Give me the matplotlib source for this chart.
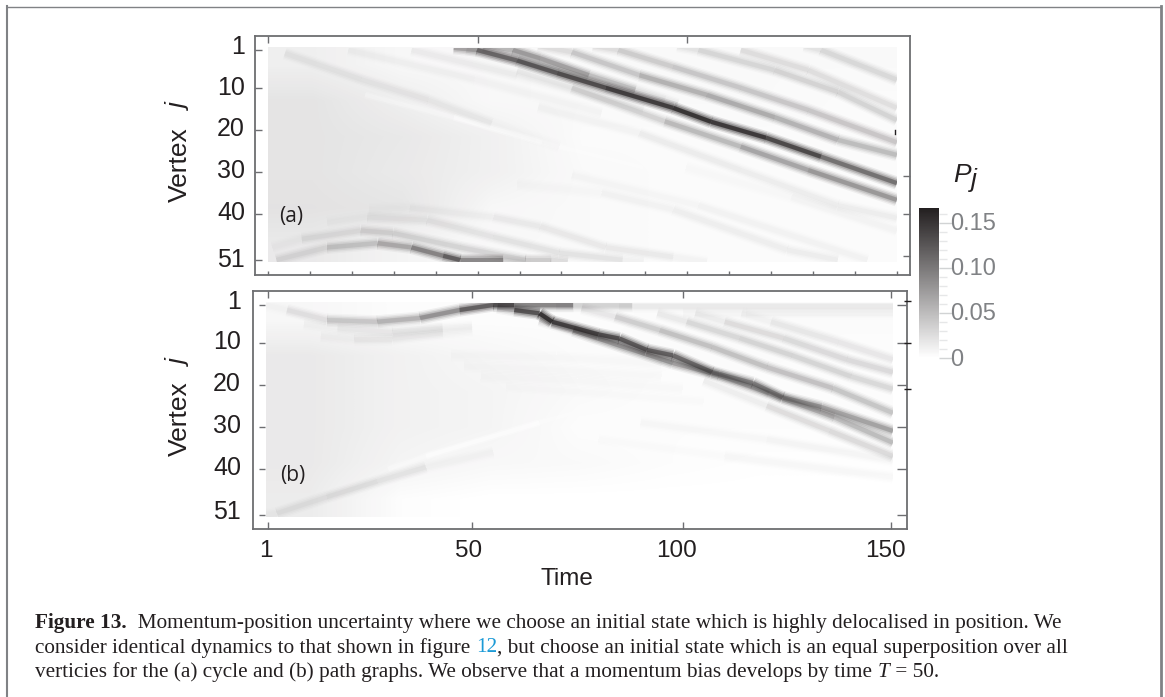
import numpy as np
import matplotlib
matplotlib.use("Agg")
import matplotlib.pyplot as plt
import matplotlib.ticker
from matplotlib.collections import LineCollection
from matplotlib.colors import LinearSegmentedColormap, Normalize
from matplotlib.cm import ScalarMappable
from matplotlib.patches import Rectangle

W, H = 1165, 697
INK = "#231f20"
FRAME = "#6d6e71"
PMAX = 0.167

plt.rcParams["font.family"] = ["Liberation Sans", "DejaVu Sans"]

vertex_ticks = [1, 10, 20, 30, 40, 51]
time_labels = ["1", "50", "100", "150"]

# Background levels (rows: vertices, columns: times)
bg_a = [[.012, .006, .005, .004, .004, .004, .004],
        [.020, .012, .005, .004, .004, .004, .003],
        [.020, .017, .011, .003, .003, .003, .003],
        [.020, .016, .011, .004, .003, .003, .003],
        [.021, .019, .006, .004, .003, .003, .003],
        [.016, .008, .005, .004, .003, .003, .003]]
bg_b = [[.006, .002, .002, .002, .003, .003, .003],
        [.016, .010, .006, .003, .003, .003, .002],
        [.016, .010, .008, .004, .002, .002, .002],
        [.016, .010, .008, .002, .002, .002, .002],
        [.016, .008, .005, .004, .002, .001, .001],
        [.014, .002, .000, .000, .000, .000, .000]]

# Ridges: (times, vertices, P values) read along each dark band
ridges_a = [
    ([45, 50.5, 60, 69.5, 81, 97, 106, 119, 132, 150], [0.5, 1, 3.5, 6.5, 10, 14.8, 18.1, 21.9, 26.4, 32.7],
     [.03, .10, .12, .13, .14, .16, .16, .15, .13, .08]),
    ([52, 59, 65.5, 77, 88, 98], [0, 1, 3, 7, 10.5, 14], [.03, .07, .075, .06, .03, .0]),
    ([60, 73, 95, 113, 129, 150], [6, 10, 18, 24, 29.6, 36.7], [.0, .02, .04, .06, .07, .08]),
    ([65, 73, 89, 105, 121, 136, 150], [0, 1.5, 7, 11.7, 17, 22.4, 26], [.01, .03, .05, .06, .06, .05, .045]),
    ([78, 84, 97, 113, 129, 150], [0, 1, 5, 10, 15.3, 23], [.01, .03, .04, .04, .04, .04]),
    ([98, 103, 121, 136, 150], [0, 1, 5.8, 11, 17.7], [.01, .025, .03, .03, .03]),
    ([113, 129, 150], [1, 5.8, 14.8], [.02, .02, .02]),
    ([128, 132, 150], [0, 1, 8.1], [.01, .025, .025]),
    ([5, 23, 39, 54, 70], [1.8, 8, 12.9, 18.4, 24], [.012, .014, .011, .007, .0]),
    ([20, 50, 80], [1, 8, 16], [.006, .010, .0]),
    ([35, 60, 90], [1, 7, 15], [.008, .010, .0]),
    ([48, 70, 95], [1, 6, 13], [.010, .012, .0]),
    ([65, 89, 113, 136, 150], [14.6, 20.8, 29.6, 38, 41], [.0, .012, .010, .010, .010]),
    ([3, 15, 27, 35, 42.5, 46.5, 56.7, 62], [51, 48, 47, 48, 50, 51, 51, 51.5], [.01, .03, .05, .07, .11, .13, .04, .0]),
    ([2, 9, 23, 30.6, 46.5, 62, 68, 72], [48, 46, 44, 44.6, 48, 51, 51, 51.5], [.0, .01, .025, .03, .025, .03, .04, .0]),
    ([15, 24.5, 38.7, 54.4, 70, 85, 90], [42, 40.8, 41.5, 45.5, 49.3, 51, 51.5], [.0, .008, .015, .015, .02, .015, .0]),
    ([25, 34.6, 54.4, 65.5, 81, 97, 105], [39, 38.6, 40.8, 43, 48, 50.3, 51.5], [.0, .006, .010, .012, .012, .012, .0]),
    ([60, 80, 97, 124, 136], [33, 35, 39, 48.6, 51], [.0, .006, .008, .010, .010]),
    ([73, 103, 143], [30.8, 38, 51], [.0, .008, .008]),
    ([100, 125, 150], [29, 36, 44], [.0, .006, .006]),
]
ridges_b = [
    ([1, 6, 15.5, 27.4, 37.6, 47, 55, 60, 74, 88], [1, 2.2, 4.6, 5, 4.1, 2.2, 1, 1, 1, 1],
     [.0, .008, .03, .05, .06, .10, .14, .13, .05, .0]),
    ([10, 18, 31, 43, 50], [5.5, 6.5, 7.5, 6.5, 6], [.0, .010, .016, .016, .0]),
    ([14, 22, 31, 43, 50], [8.5, 9, 9, 7.7, 7], [.0, .010, .015, .010, .0]),
    ([56, 60, 66, 69, 80, 85, 91.5, 97.7, 107, 116.7, 123.8, 133, 150], [1.5, 2.2, 3, 5, 8, 9, 11.7, 13, 17, 19.6, 23, 25.3, 31],
     [.0, .10, .16, .16, .13, .14, .11, .13, .09, .09, .09, .07, .065]),
    ([66, 74, 86, 97.7, 108.6, 120.5, 136, 150], [4.5, 7, 11, 14.8, 17.7, 22, 27.7, 33.8], [.0, .07, .09, .07, .07, .07, .05, .05]),
    ([105, 120, 135, 150], [19, 25, 31, 37], [.0, .02, .025, .025]),
    ([76, 84, 94.6, 107, 120, 135.7, 150], [1.8, 3.8, 7, 11, 15.8, 20.8, 26.7], [.0, .03, .04, .05, .04, .05, .035]),
    ([94, 101, 113.6, 126, 140, 150], [3, 5, 8.9, 13, 18, 21], [.0, .025, .03, .03, .03, .025]),
    ([103, 110, 124, 139, 150], [3, 5, 8.9, 14, 17], [.0, .02, .025, .025, .025]),
    ([114, 121, 137, 150], [3, 5, 9.8, 14], [.0, .015, .015, .015]),
    ([70, 85, 150], [1.2, 1.2, 1.2], [.0, .012, .012]),
    ([100, 115, 150], [2.8, 2.8, 2.8], [.0, .008, .008]),
    ([45, 70, 95], [13, 13.5, 15], [.0, .007, .0]),
    ([48, 70, 95], [15.5, 16.5, 18], [.0, .007, .0]),
    ([52, 75, 100], [18, 19, 21], [.0, .006, .0]),
    ([58, 80, 105], [20.5, 22, 24], [.0, .005, .0]),
    ([1, 3.6, 15.5, 27.4, 39, 55], [51, 50.6, 46.7, 43, 39.6, 36], [.0, .012, .018, .02, .01, .0]),
    ([90, 120, 150], [29, 33, 38], [.0, .008, .008]),
    ([80, 110, 150], [33, 37, 42], [.0, .005, .005]),
]
# Pale lines where the background breaks off (third list: strength of the paling)
valleys_a = [([24, 45, 66, 90], [11.7, 17, 23, 29], [.0, .12, .12, .0])]
valleys_b = [([30, 39, 66, 80], [40, 37, 29, 25], [.0, .13, .13, .0]),
             ([50, 75, 105], [44, 41, 38], [.06, .06, .0])]

cmap = LinearSegmentedColormap.from_list("pj", ["#ffffff", INK])
norm = Normalize(0, PMAX)


def px_axes(left, top, right, bottom):
    return fig.add_axes([left / W, 1 - bottom / H, (right - left) / W, (bottom - top) / H])


SOFT = ((9.5, .12, 1), (7.5, .20, 1), (5.5, .28, 1), (3.5, .25, 1), (3.0, .80, 2))
PALE = ((5.0, .4, 1), (3.0, .6, 1))


def draw_ridges(ax, ridges, clip, color=INK, layers=SOFT):
    rgb = matplotlib.colors.to_rgb(color)
    for width, strength, power in layers:
        for times, verts, vals in ridges:
            pts = np.column_stack([times, verts])
            segs = np.stack([pts[:-1], pts[1:]], axis=1)
            mids = (np.array(vals[:-1]) + np.array(vals[1:])) / 2
            rgba = [(*rgb, min(1, strength * (m / PMAX) ** power)) for m in mids]
            lc = LineCollection(segs, colors=rgba, linewidths=width, capstyle="butt", zorder=2)
            ax.add_collection(lc)
            lc.set_clip_path(clip)


def panel(box, xlim, ylim, bg, ridges, valleys):
    ax = px_axes(*box)
    extent = [1, 150, 51.5, 0.5]
    ax.imshow(np.array(bg), cmap=cmap, norm=norm, aspect="auto", extent=extent,
              interpolation="bilinear", zorder=1)
    clip = Rectangle((1, 0.5), 149, 51, transform=ax.transData)
    draw_ridges(ax, valleys, clip, color="#ffffff", layers=PALE)
    draw_ridges(ax, ridges, clip)
    ax.set_xlim(*xlim)
    ax.set_ylim(*ylim)
    for s in ax.spines.values():
        s.set_color(FRAME)
        s.set_linewidth(1.3)
    return ax


fig = plt.figure(figsize=(W / 100, H / 100), dpi=100)
fig.patch.set_facecolor("white")

# page frame
fig.add_artist(plt.Line2D([7 / W, 1160.5 / W], [1 - 6.5 / H, 1 - 6.5 / H], color="#808285", lw=1.0))
fig.add_artist(plt.Line2D([7 / W, 7 / W], [0, 1 - 6 / H], color="#808285", lw=1.5))
fig.add_artist(plt.Line2D([1160.5 / W, 1160.5 / W], [0, 1 - 6 / H], color="#808285", lw=2.0))

ax_a = panel((254.7, 35.7, 910, 275), (-2.15, 153.1), (54.57, -2.4), bg_a, ridges_a, valleys_a)
ax_b = panel((252.7, 290.7, 906.7, 529), (-2.16, 153.26), (54.33, -2.4), bg_b, ridges_b, valleys_b)

# panel a ticks
grid_a = np.linspace(1, 150, 16)
ax_a.set_xticks(grid_a)
ax_a.set_xticklabels([])
ax_a.tick_params(axis="x", direction="in", length=3, width=1, color=FRAME)
ax_a.set_yticks(vertex_ticks)
ax_a.set_yticklabels([])
ax_a.tick_params(axis="y", direction="in", length=5, width=1, color=FRAME)
ax_top = ax_a.secondary_xaxis("top")
ax_top.set_xticks(grid_a[[0, 5, 10]])
ax_top.set_xticklabels([])
ax_top.tick_params(direction="in", length=5, width=1, color=FRAME)
ax_top.spines["top"].set_visible(False)
ax_right = ax_a.secondary_yaxis("right")
ax_right.set_yticks([31, 40, 50])
ax_right.set_yticklabels([])
ax_right.tick_params(direction="in", length=5, width=1, color=FRAME)
ax_right.spines["right"].set_visible(False)
ax_a.plot([149.5, 149.5], [20, 21], color=INK, lw=1, zorder=3)

# panel b ticks
ticks_b = [1.5, 50, 100, 149.5]
ax_b.set_xticks(ticks_b)
ax_b.set_xticklabels([])
ax_b.tick_params(axis="x", direction="in", length=5, width=1, color=FRAME, top=True)
ax_b.set_yticks(vertex_ticks)
ax_b.set_yticklabels([])
ax_b.tick_params(axis="y", length=0)
ax_b.hlines(vertex_ticks, -0.66, 0.76, color=FRAME, lw=1, zorder=3)
ax_b.hlines(vertex_ticks, 151.0, 153.26, color=FRAME, lw=1, zorder=3)
ax_b.hlines([0, 10, 21], 152.5, 154.2, color=INK, lw=1, zorder=3, clip_on=False)


def ftext(px, py, s, **kw):
    return fig.text(px / W, 1 - py / H, s, **kw)


# tick labels
for lab, y in zip(vertex_ticks, [47, 88, 129, 171, 213, 260]):
    ftext(245, y, str(lab), ha="right", va="center", fontsize=18, color=INK)
for lab, y in zip(vertex_ticks, [302, 342, 384, 426, 468, 512]):
    ftext(241, y, str(lab), ha="right", va="center", fontsize=18, color=INK)
for lab, x in zip(time_labels, [266, 469, 676, 885]):
    ftext(x, 551, lab, ha="center", va="center", fontsize=17.5, color=INK)
ftext(567, 579, "Time", ha="center", va="center", fontsize=17.5, color=INK)

for yv, yj in ((165, 107), (419, 363)):
    ftext(180, yv, "Vertex", rotation=90, ha="center", va="center", fontsize=19, color=INK)
    ftext(180, yj, "j", rotation=90, ha="center", va="center", fontsize=19, color=INK, style="italic")

ftext(291, 217, "(a)", ha="center", va="center", fontsize=15, color=INK, family="Open Sans")
ftext(293, 475, "(b)", ha="center", va="center", fontsize=15, color=INK, family="Open Sans")

# colour bar
cax = px_axes(919, 208, 939, 358)
cb = fig.colorbar(ScalarMappable(norm=norm, cmap=cmap), cax=cax)
cb.outline.set_visible(False)
cb.set_ticks([0, .05, .10, .15])
cb.set_ticklabels([])
cb.ax.minorticks_on()
cb.ax.yaxis.set_minor_locator(matplotlib.ticker.MultipleLocator(.01))
cb.ax.tick_params(which="major", length=10, width=1, color="#d1d3d4")
cb.ax.tick_params(which="minor", length=6, width=1, color="#e6e7e8")
for lab, y in zip(["0.15", "0.10", "0.05", "0"], [224, 269, 314, 360]):
    ftext(950, y, lab, ha="left", va="center", fontsize=17, color="#808285")
ftext(953, 175, "P", ha="left", va="center", fontsize=19, color=INK, style="italic")
ftext(971, 180, "j", ha="left", va="center", fontsize=19, color=INK, style="italic")

# caption
SERIF = "Liberation Serif"
CAP = 15.35


def caption_line(px, py, pieces):
    r = fig.canvas.get_renderer()
    x = px
    for s, kw in pieces:
        style = dict(color=INK)
        style.update(kw)
        ftext(x, py, s, ha="left", va="baseline", fontsize=CAP, family=SERIF, **style)
        probe = fig.text(0, 0, s.replace(" ", "\u00a0"), fontsize=CAP, family=SERIF, **kw)
        x += probe.get_window_extent(r).width
        probe.remove()


caption_line(35, 628, [("Figure 13.", {"weight": "bold"}),
                       ("  Momentum-position uncertainty where we choose an initial state which is highly delocalised in position. We", {})])
caption_line(35, 652.5, [("consider identical dynamics to that shown in figure ", {}), ("12", {"color": "#1b9ad6"}),
                         (", but choose an initial state which is an equal superposition over all", {})])
caption_line(35, 677, [("verticies for the (a) cycle and (b) path graphs. We observe that a momentum bias develops by time ", {}),
                       ("T", {"style": "italic"}), (" = 50.", {})])

fig.savefig("out.png", dpi=100)
